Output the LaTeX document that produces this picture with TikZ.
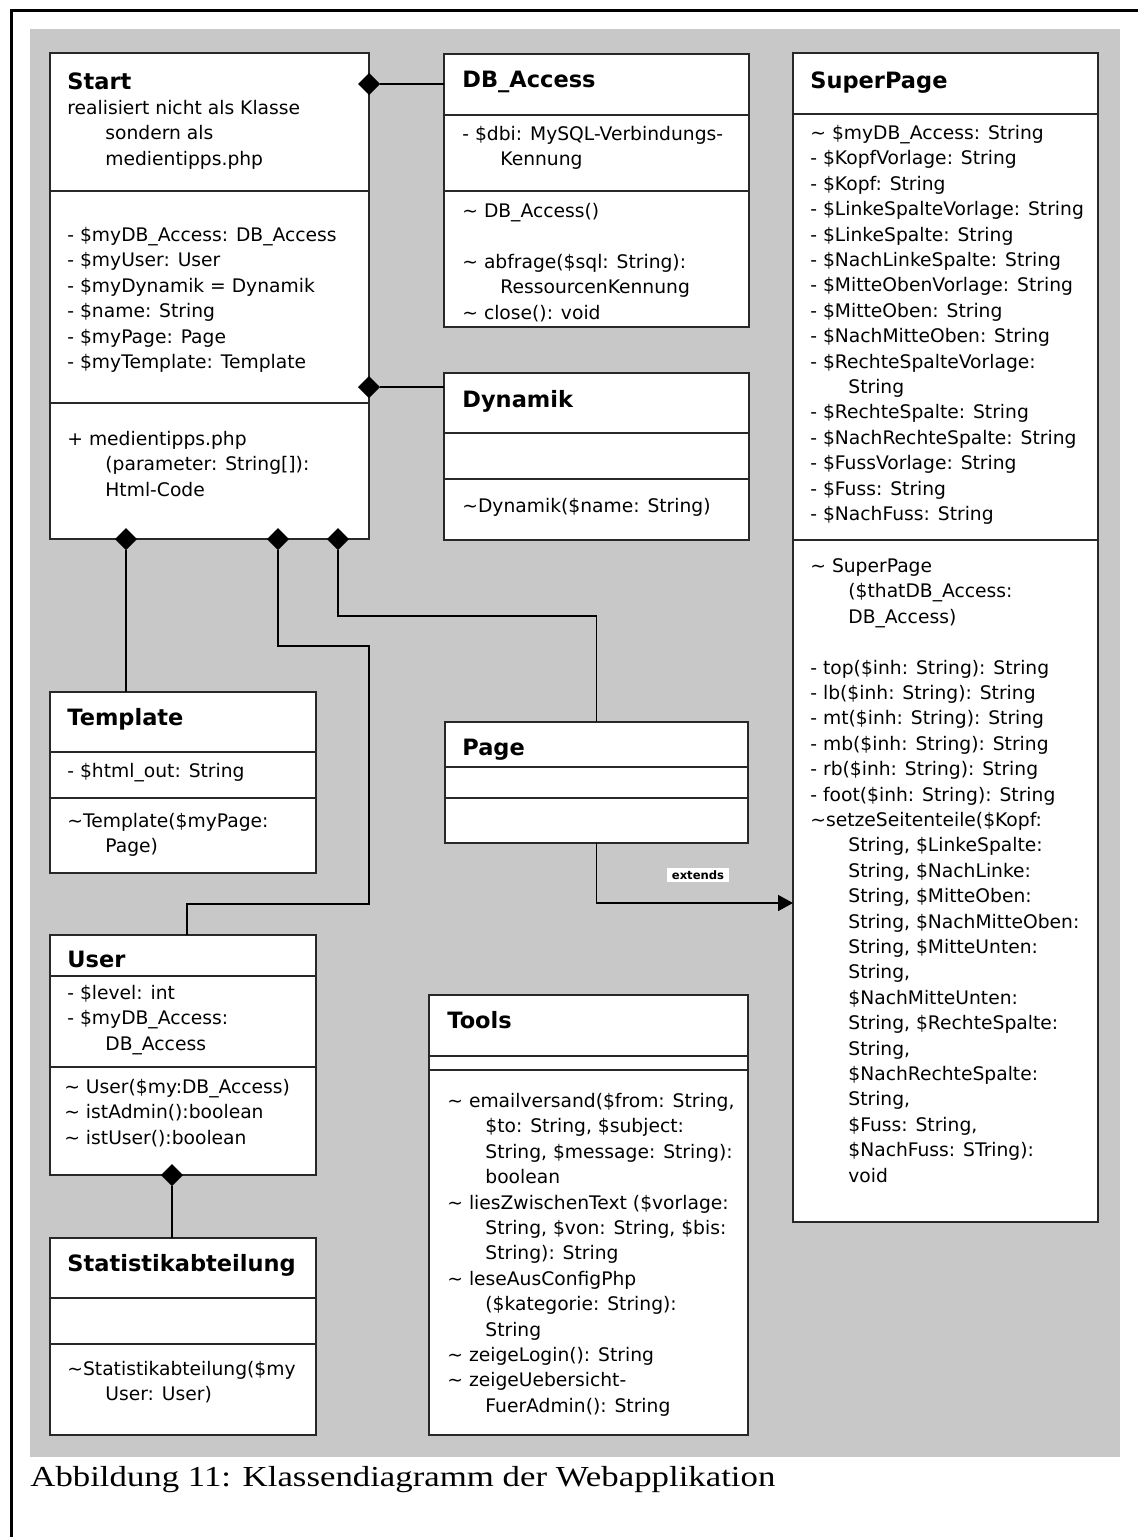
\documentclass[tikz,border=0pt]{standalone}
\usepackage{fontspec}
\setmainfont{DejaVu Sans}
\newfontfamily\capfont[FakeStretch=1.2]{Liberation Serif}
\usetikzlibrary{fit,shapes.geometric,arrows.meta}

\definecolor{bggray}{RGB}{200,200,200}
\definecolor{boxline}{RGB}{40,40,40}

\newcommand\bodyfont{\fontsize{9.35}{12.7}\selectfont}
\newcommand\ttlfont{\fontsize{11.25}{13}\selectfont\bfseries}
\newcommand\topstrut{\rule{0pt}{8pt}}
\newcommand\tild{\textasciitilde}
\newcommand\ind{\hspace*{19pt}}

\tikzset{
  umlbox/.style={draw=boxline, fill=white, line width=1pt, inner sep=0pt, outer sep=0pt},
  sepline/.style={draw=boxline, line width=1pt},
  conn/.style={draw=black, line width=0.8pt},
  dia/.style={diamond, fill=black, draw=none, minimum width=11pt, minimum height=11pt, inner sep=0pt, outer sep=0pt},
  ttl/.style={font=\ttlfont, anchor=base west, inner sep=0pt},
  txt/.style={font=\bodyfont, align=left, anchor=north west, inner sep=0pt},
  extlbl/.style={fill=white, font=\fontsize{5.8}{7}\selectfont\bfseries, inner xsep=2.2pt, inner ysep=1.2pt, text height=4.4pt, text depth=0pt},
}

\begin{document}
\begin{tikzpicture}[x=0.5pt, y=-0.5pt]
\useasboundingbox (0,0) rectangle (1138,1537);

% page frame and grey canvas
\draw[line width=1.5pt] (11,1537) -- (11,10.5) -- (1138,10.5);
\fill[bggray] (30,29) rectangle (1120,1457);

% ---------- Start ----------
\node[umlbox, fit={(50,53) (369,539)}] (start) {};
\draw[sepline] (50,191) -- (369,191);
\draw[sepline] (50,403) -- (369,403);
\node[ttl] (startT) at (67,89) {Start};
\node[txt] (startN) at (67,98) {\topstrut realisiert nicht als Klasse\\\ind sondern als\\\ind medientipps.php};
\node[txt] (startA) at (67,225) {\topstrut - \$myDB\_Access: DB\_Access\\- \$myUser: User\\- \$myDynamik = Dynamik\\- \$name: String\\- \$myPage: Page\\- \$myTemplate: Template};
\node[txt] (startM) at (67,429) {\topstrut + medientipps.php\\\ind (parameter: String[]):\\\ind Html-Code};

% ---------- DB_Access ----------
\node[umlbox, fit={(444,54) (749,327)}] (dbacc) {};
\draw[sepline] (444,115) -- (749,115);
\draw[sepline] (444,191) -- (749,191);
\node[ttl] (dbaccT) at (462,87) {DB\_Access};
\node[txt] (dbaccA) at (462,124) {\topstrut - \$dbi: MySQL-Verbindungs-\\\ind Kennung};
\node[txt] (dbaccM) at (462,201) {\topstrut \tild{} DB\_Access()\\\mbox{}\\\tild{} abfrage(\$sql: String):\\\ind RessourcenKennung\\\tild{} close(): void};

% ---------- Dynamik ----------
\node[umlbox, fit={(444,373) (749,540)}] (dynamik) {};
\draw[sepline] (444,433) -- (749,433);
\draw[sepline] (444,479) -- (749,479);
\node[ttl] (dynamikT) at (462,407) {Dynamik};
\node[txt] (dynamikM) at (462,496) {\topstrut \tild Dynamik(\$name: String)};

% ---------- SuperPage ----------
\node[umlbox, fit={(793,53) (1098,1222)}] (superpage) {};
\draw[sepline] (793,114) -- (1098,114);
\draw[sepline] (793,540) -- (1098,540);
\node[ttl] (superpageT) at (810,88) {SuperPage};
\node[txt] (superpageA) at (810,123) {\topstrut \tild{} \$myDB\_Access: String\\- \$KopfVorlage: String\\- \$Kopf: String\\- \$LinkeSpalteVorlage: String\\- \$LinkeSpalte: String\\- \$NachLinkeSpalte: String\\- \$MitteObenVorlage: String\\- \$MitteOben: String\\- \$NachMitteOben: String\\- \$RechteSpalteVorlage:\\\ind String\\- \$RechteSpalte: String\\- \$NachRechteSpalte: String\\- \$FussVorlage: String\\- \$Fuss: String\\- \$NachFuss: String};
\node[txt] (superpageM) at (810,556) {\topstrut \tild{} SuperPage\\\ind (\$thatDB\_Access:\\\ind DB\_Access)\\\mbox{}\\- top(\$inh: String): String\\- lb(\$inh: String): String\\- mt(\$inh: String): String\\- mb(\$inh: String): String\\- rb(\$inh: String): String\\- foot(\$inh: String): String\\\tild setzeSeitenteile(\$Kopf:\\\ind String, \$LinkeSpalte:\\\ind String, \$NachLinke:\\\ind String, \$MitteOben:\\\ind String, \$NachMitteOben:\\\ind String, \$MitteUnten:\\\ind String,\\\ind \$NachMitteUnten:\\\ind String, \$RechteSpalte:\\\ind String,\\\ind \$NachRechteSpalte:\\\ind String,\\\ind \$Fuss: String,\\\ind \$NachFuss: STring):\\\ind void};

% ---------- Template ----------
\node[umlbox, fit={(50,692) (316,873)}] (template) {};
\draw[sepline] (50,752) -- (316,752);
\draw[sepline] (50,798) -- (316,798);
\node[ttl] (templateT) at (67,725) {Template};
\node[txt] (templateA) at (67,761) {\topstrut - \$html\_out: String};
\node[txt] (templateM) at (67,811) {\topstrut \tild Template(\$myPage:\\\ind Page)};

% ---------- User ----------
\node[umlbox, fit={(50,935) (316,1175)}] (user) {};
\draw[sepline] (50,976) -- (316,976);
\draw[sepline] (50,1067) -- (316,1067);
\node[ttl] (userT) at (67,967) {User};
\node[txt] (userA) at (67,983) {\topstrut - \$level: int\\- \$myDB\_Access:\\\ind DB\_Access};
\node[txt] (userM) at (64,1077) {\topstrut \tild{} User(\$my:DB\_Access)\\\tild{} istAdmin():boolean\\\tild{} istUser():boolean};

% ---------- Statistikabteilung ----------
\node[umlbox, fit={(50,1238) (316,1435)}] (stat) {};
\draw[sepline] (50,1298) -- (316,1298);
\draw[sepline] (50,1344) -- (316,1344);
\node[ttl] (statT) at (67,1271) {Statistikabteilung};
\node[txt] (statM) at (67,1359) {\topstrut \tild Statistikabteilung(\$my\\\ind User: User)};

% ---------- Page ----------
\node[umlbox, fit={(445,722) (748,843)}] (page) {};
\draw[sepline] (445,767) -- (748,767);
\draw[sepline] (445,798) -- (748,798);
\node[ttl] (pageT) at (462,755) {Page};

% ---------- Tools ----------
\node[umlbox, fit={(429,995) (748,1435)}] (tools) {};
\draw[sepline] (429,1056) -- (748,1056);
\draw[sepline] (429,1070) -- (748,1070);
\node[ttl] (toolsT) at (447,1028) {Tools};
\node[txt] (toolsM) at (447,1091) {\topstrut \tild{} emailversand(\$from: String,\\\ind \$to: String, \$subject:\\\ind String, \$message: String):\\\ind boolean\\\tild{} liesZwischenText (\$vorlage:\\\ind String, \$von: String, \$bis:\\\ind String): String\\\tild{} leseAusConfigPhp\\\ind (\$kategorie: String):\\\ind String\\\tild{} zeigeLogin(): String\\\tild{} zeigeUebersicht-\\\ind FuerAdmin(): String};

% ---------- composition diamonds ----------
\node[dia] (d1) at (369,84) {};
\node[dia] (d2) at (369,387) {};
\node[dia] (d3) at (126,539) {};
\node[dia] (d4) at (278,539) {};
\node[dia] (d5) at (338,539) {};
\node[dia] (d6) at (172,1175) {};

% ---------- connectors ----------
\draw[conn] (d1.east) -- (dbacc.west |- d1.east);
\draw[conn] (d2.east) -- (dynamik.west |- d2.east);
\draw[conn] (d3.south) -- (template.north -| d3.south);

\coordinate (ub1) at (278,646);
\coordinate (ub2) at (369,646);
\coordinate (ub3) at (369,904);
\coordinate (ub4) at (187,904);
\draw[conn] (d4.south) -- (ub1) -- (ub2) -- (ub3) -- (ub4) -- (user.north -| ub4);

\coordinate (pb1) at (338,616);
\draw[conn] (d5.south) -- (pb1) -| (page.north);

\coordinate (eb1) at (0,903);
\draw[conn, -{Triangle[length=7.5pt, width=8pt]}] (page.south) |- (superpage.west |- eb1);
\node[extlbl] (extendsLbl) at (698,875) {extends};

\draw[conn] (d6.south) -- (stat.north -| d6.south);

% ---------- caption ----------
\node[anchor=base west, inner sep=0pt, font=\capfont\fontsize{14.5}{17}\selectfont] (caption) at (30,1486) {Abbildung 11: Klassendiagramm der Webapplikation};
\end{tikzpicture}
\end{document}
